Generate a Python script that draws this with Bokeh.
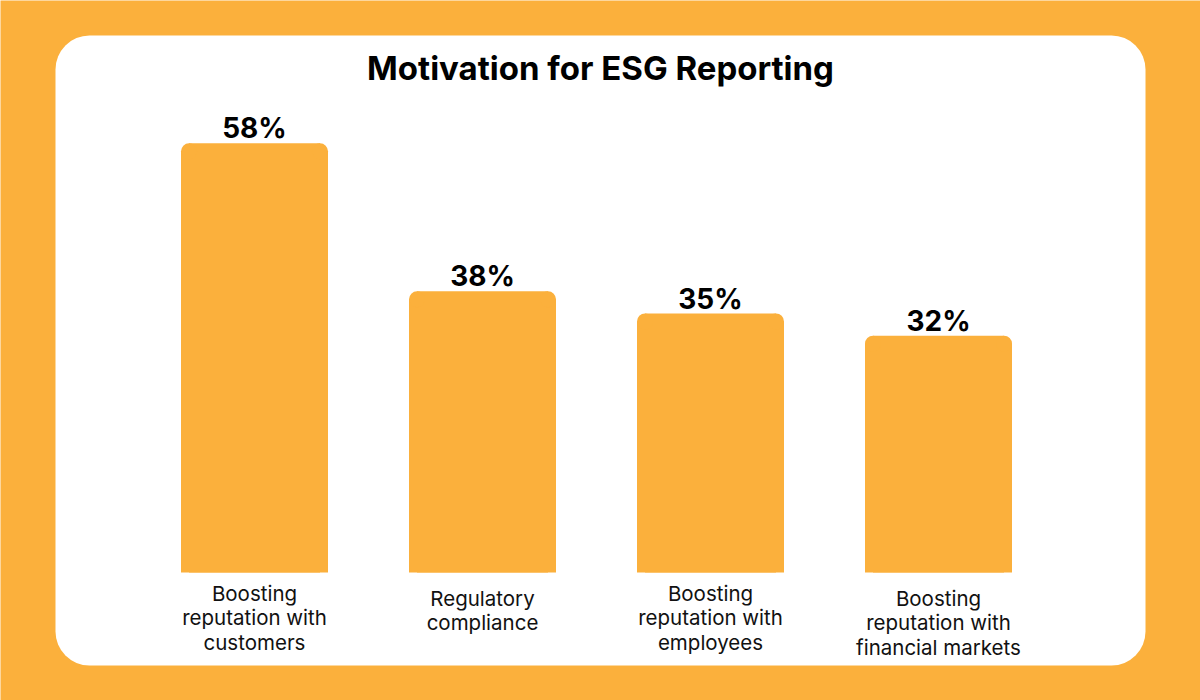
from bokeh.plotting import figure
from bokeh.models import Range1d, BoxAnnotation, ColumnDataSource
from bokeh.core.properties import value
from bokeh.embed import file_html
from bokeh.resources import INLINE

# ---- data ----
categories = [
    "Boosting\nreputation with\ncustomers",
    "Regulatory\ncompliance",
    "Boosting\nreputation with\nemployees",
    "Boosting\nreputation with\nfinancial markets",
]
values = [58, 38, 35, 32]
value_labels = ["58%", "38%", "35%", "32%"]
title_text = "Motivation for ESG Reporting"

# ---- layout constants (pixel mapping) ----
W, H = 1200, 700
X0, DX = 254.0, 228.0     # pixel x of first bar centre, pixels per category
Y0, DY = 572.0, 7.4       # pixel y of zero line, pixels per percent
ORANGE = "#FBB03C"
FONT = "Inter"

def px_x(px):
    return (px - X0) / DX

def px_y(py):
    return (Y0 - py) / DY

p = figure(width=W, height=H, output_backend="svg", toolbar_location=None,
           x_range=Range1d(px_x(0), px_x(W)), y_range=Range1d(px_y(H), px_y(0)),
           x_axis_location=None, y_axis_location=None, min_border=0,
           background_fill_color=ORANGE, border_fill_color=ORANGE,
           outline_line_color=None)
p.grid.visible = False

# white rounded panel
panel = BoxAnnotation(left=px_x(55), right=px_x(1145), top=px_y(35), bottom=px_y(665),
                      fill_color="white", fill_alpha=1.0, line_color=None,
                      border_radius=34, level="underlay")
p.add_layout(panel)

# bars with rounded top corners
xs = list(range(len(values)))
bw = 147.0 / DX
r_px = 8.0
rx = r_px / DX
ry = r_px / DY
src = ColumnDataSource(dict(x=xs, top=values,
                            top_low=[v - ry for v in values],
                            lx=[x - bw / 2 + rx for x in xs],
                            rxs=[x + bw / 2 - rx for x in xs],
                            cy=[v - ry for v in values],
                            lab=value_labels,
                            lab_y=[v + 15.0 / DY for v in values],
                            cat=categories))
p.vbar(x="x", top="top_low", bottom=0, width=bw, source=src,
       fill_color=ORANGE, line_color=None)
p.vbar(x="x", top="top", bottom=0, width=bw - 2 * rx, source=src,
       fill_color=ORANGE, line_color=None)
p.scatter(x="lx", y="cy", size=2 * r_px, source=src, fill_color=ORANGE, line_color=None)
p.scatter(x="rxs", y="cy", size=2 * r_px, source=src, fill_color=ORANGE, line_color=None)

# value labels
p.text(x="x", y="lab_y", text="lab", source=src, text_align="center",
       text_baseline="middle", text_font=value(FONT), text_font_style="bold",
       text_font_size="28px", text_color="#000000")

# category labels
label_tops = [580, 585, 580, 585]
p.text(x=xs, y=[px_y(t) for t in label_tops], text=categories,
       text_align="center", text_baseline="top", text_font=value(FONT),
       text_font_size="20.5px", text_line_height=0.99, text_color="#111111")

# title
p.text(x=[px_x(600)], y=[px_y(67)], text=[title_text], text_align="center",
       text_baseline="middle", text_font=value(FONT), text_font_style="bold",
       text_font_size="33px", text_color="#000000")

open("out.html", "w").write(file_html(p, INLINE))
